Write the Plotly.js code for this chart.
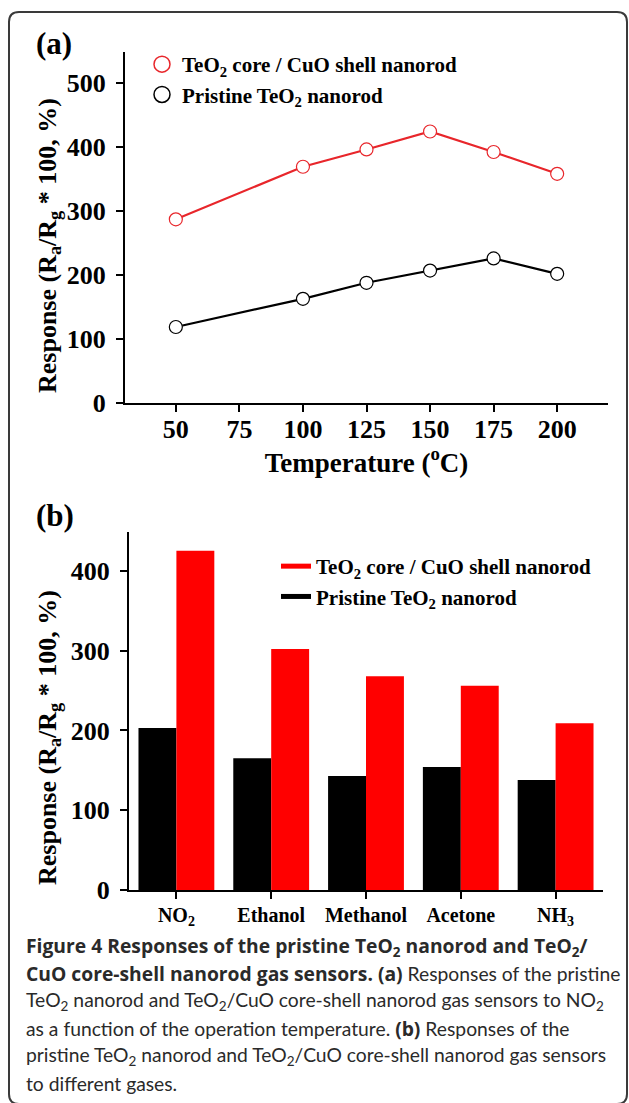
<!DOCTYPE html>
<html>
<head>
<meta charset="utf-8">
<script src="https://cdn.plot.ly/plotly-3.0.1.min.js"></script>
<style>
html,body{margin:0;padding:0;background:#fff;}
#chart{width:629px;height:1103px;}
</style>
</head>
<body>
<div id="chart"></div>
<script>
// ---- data ----
const temperatures = [50, 100, 125, 150, 175, 200];
const coreShellByTemp = [287, 369, 396, 424, 392, 358];
const pristineByTemp = [119, 163, 188, 207, 226, 202];

const gases = ['NO<sub>2</sub>', 'Ethanol', 'Methanol', 'Acetone', 'NH<sub>3</sub>'];
const coreShellByGas = [425, 302, 268, 256, 209];
const pristineByGas = [203, 165, 143, 154, 138];

const seriesNames = ['TeO<sub>2</sub> core / CuO shell nanorod', 'Pristine TeO<sub>2</sub> nanorod'];
const tempTicks = [50, 75, 100, 125, 150, 175, 200];

const B = s => '<span style="font-family:Open Sans;font-weight:bold;font-size:19.3px">' + s + '</span>';
const captionLines = [
  B('Figure 4 Responses of the pristine TeO<sub>2</sub> nanorod and TeO<sub>2</sub>/'),
  B('CuO core-shell nanorod gas sensors. (a)') + ' Responses of the pristine',
  'TeO<sub>2</sub> nanorod and TeO<sub>2</sub>/CuO core-shell nanorod gas sensors to NO<sub>2</sub>',
  'as a function of the operation temperature. ' + B('(b)') + ' Responses of the',
  'pristine TeO<sub>2</sub> nanorod and TeO<sub>2</sub>/CuO core-shell nanorod gas sensors',
  'to different gases.'
];

// ---- styling ----
const W = 629, H = 1103;
const px = v => v / W;
const py = v => 1 - v / H;
const SERIF = 'Liberation Serif, Times New Roman, serif';
const RED_LINE = '#e8262b';
const RED_BAR = '#ff0000';

const traces = [
  {x: temperatures, y: coreShellByTemp, type: 'scatter', mode: 'lines+markers', xaxis: 'x', yaxis: 'y',
   line: {color: RED_LINE, width: 2.2},
   marker: {symbol: 'circle', size: 13, color: '#fff', line: {color: RED_LINE, width: 1.2}},
   showlegend: false, cliponaxis: false},
  {x: temperatures, y: pristineByTemp, type: 'scatter', mode: 'lines+markers', xaxis: 'x', yaxis: 'y',
   line: {color: '#000', width: 2.2},
   marker: {symbol: 'circle', size: 13, color: '#fff', line: {color: '#000', width: 1.2}},
   showlegend: false, cliponaxis: false},
  // legend entries for panel (a)
  {x: [null], y: [null], type: 'scatter', mode: 'markers', xaxis: 'x', yaxis: 'y', name: seriesNames[0],
   marker: {symbol: 'circle-open', size: 17, color: RED_LINE, line: {width: 1.5}}, legend: 'legend'},
  {x: [null], y: [null], type: 'scatter', mode: 'markers', xaxis: 'x', yaxis: 'y', name: seriesNames[1],
   marker: {symbol: 'circle-open', size: 17, color: '#000', line: {width: 1.5}}, legend: 'legend'},
  // panel (b) bars
  {x: gases, y: pristineByGas, type: 'bar', xaxis: 'x2', yaxis: 'y2', marker: {color: '#000'}, showlegend: false, name: seriesNames[1]},
  {x: gases, y: coreShellByGas, type: 'bar', xaxis: 'x2', yaxis: 'y2', marker: {color: RED_BAR}, showlegend: false, name: seriesNames[0]},
  // legend entries for panel (b)
  {x: [null], y: [null], type: 'scatter', mode: 'lines', xaxis: 'x2', yaxis: 'y2', name: seriesNames[0],
   line: {color: RED_BAR, width: 5}, legend: 'legend2'},
  {x: [null], y: [null], type: 'scatter', mode: 'lines', xaxis: 'x2', yaxis: 'y2', name: seriesNames[1],
   line: {color: '#000', width: 5}, legend: 'legend2'}
];

const tickFont = {family: SERIF, size: 26, color: '#000', weight: 'bold'};
const axisCommon = {
  showgrid: false, zeroline: false, showline: true, linecolor: '#000', linewidth: 2,
  ticks: 'outside', ticklen: 7, tickwidth: 2, tickcolor: '#000', tickfont: tickFont,
  fixedrange: true
};

const legendFont = {family: SERIF, size: 21, color: '#000', weight: 'bold'};

const r = 10;
const fx0 = px(9), fx1 = px(627), fy0 = py(12), fy1 = py(1104);
const rx = r / W, ry = r / H;
const framePath = `M ${fx0+rx},${fy0} L ${fx1-rx},${fy0} Q ${fx1},${fy0} ${fx1},${fy0-ry} ` +
  `L ${fx1},${fy1+ry} Q ${fx1},${fy1} ${fx1-rx},${fy1} L ${fx0+rx},${fy1} Q ${fx0},${fy1} ${fx0},${fy1+ry} ` +
  `L ${fx0},${fy0-ry} Q ${fx0},${fy0} ${fx0+rx},${fy0} Z`;

const annotations = [
  {text: '(a)', x: px(54), y: py(44), xref: 'paper', yref: 'paper', showarrow: false,
   xanchor: 'center', yanchor: 'middle', font: {family: SERIF, size: 31, color: '#000', weight: 'bold'}},
  {text: '(b)', x: px(55), y: py(515), xref: 'paper', yref: 'paper', showarrow: false,
   xanchor: 'center', yanchor: 'middle', font: {family: SERIF, size: 31, color: '#000', weight: 'bold'}},
  {text: 'Response (R<sub>a</sub>/R<sub>g</sub> * 100, %)', x: px(49), y: py(246), xref: 'paper', yref: 'paper',
   showarrow: false, textangle: -90, xanchor: 'center', yanchor: 'middle',
   font: {family: SERIF, size: 26, color: '#000', weight: 'bold'}},
  {text: 'Response (R<sub>a</sub>/R<sub>g</sub> * 100, %)', x: px(49), y: py(738), xref: 'paper', yref: 'paper',
   showarrow: false, textangle: -90, xanchor: 'center', yanchor: 'middle',
   font: {family: SERIF, size: 26, color: '#000', weight: 'bold'}}
];
const captionY0 = 946, captionStep = 27.5;
captionLines.forEach((t, i) => {
  annotations.push({text: t, x: px(24), y: py(captionY0 + i * captionStep), xref: 'paper', yref: 'paper',
    showarrow: false, xanchor: 'left', yanchor: 'middle', align: 'left',
    font: {family: 'Lato, Open Sans, sans-serif', size: 19.3, color: '#2a2a2a'}});
});

const layout = {
  width: W, height: H,
  margin: {l: 0, r: 0, t: 0, b: 0, pad: 0},
  paper_bgcolor: '#fff', plot_bgcolor: '#fff',
  showlegend: true,
  xaxis: Object.assign({}, axisCommon, {
    domain: [px(125), px(608)], range: [30, 220], tickvals: tempTicks, anchor: 'y',
    ticklabelstandoff: -6,
    title: {text: 'Temperature (<sup>o</sup>C)', standoff: 0, font: {family: SERIF, size: 27, color: '#000', weight: 'bold'}}
  }),
  yaxis: Object.assign({}, axisCommon, {
    domain: [py(403.3), py(52)], range: [0, 548], dtick: 100, tick0: 0, anchor: 'x', ticklabelstandoff: 5
  }),
  xaxis2: Object.assign({}, axisCommon, {
    domain: [px(129), px(603)], range: [-0.5, 4.5], anchor: 'y2', type: 'category',
    tickfont: {family: SERIF, size: 20, color: '#000', weight: 'bold'}, ticklabelstandoff: -1
  }),
  yaxis2: Object.assign({}, axisCommon, {
    domain: [py(890), py(531.7)], range: [0, 449], dtick: 100, tick0: 0, anchor: 'x2', ticklabelstandoff: 5
  }),
  barmode: 'group', bargap: 0.2, bargroupgap: 0,
  legend: {x: px(142), y: py(44), xanchor: 'left', yanchor: 'top', bgcolor: 'rgba(0,0,0,0)',
           font: legendFont, itemsizing: 'trace', tracegroupgap: 0},
  legend2: {x: px(276), y: py(546), xanchor: 'left', yanchor: 'top', bgcolor: 'rgba(0,0,0,0)',
            font: legendFont, tracegroupgap: 0},
  shapes: [{type: 'path', xref: 'paper', yref: 'paper', path: framePath,
            line: {color: '#3a3a3a', width: 2}, fillcolor: 'rgba(0,0,0,0)', layer: 'below'}],
  annotations: annotations
};

Plotly.newPlot('chart', traces, layout, {staticPlot: true, displayModeBar: false});
</script>
</body>
</html>
